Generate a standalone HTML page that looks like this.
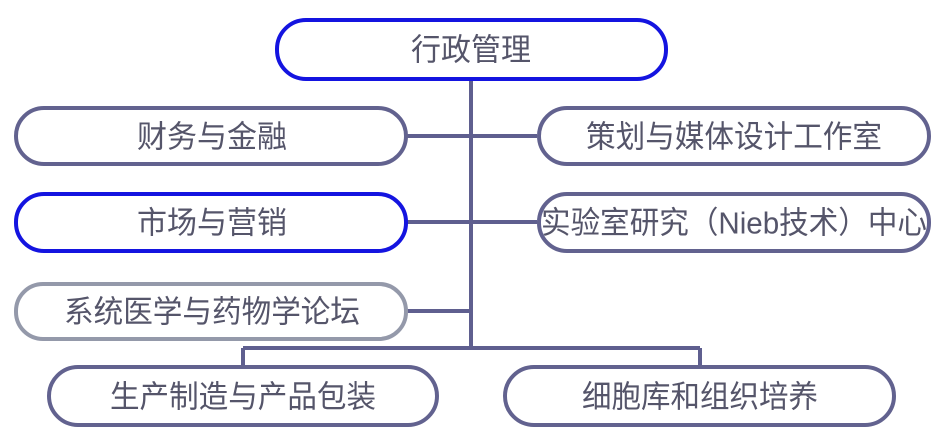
<!DOCTYPE html>
<html><head><meta charset="utf-8"><style>
html,body{margin:0;padding:0;background:#fff;}
text{font-family:"Liberation Sans","Noto Sans CJK SC","WenQuanYi Zen Hei",sans-serif;font-size:31px;fill:#55556a;text-anchor:middle;dominant-baseline:central;}
</style></head><body>
<svg width="947" height="428" xmlns="http://www.w3.org/2000/svg">
<g stroke="#5f5f8f" stroke-width="4" fill="none">
<line x1="471" y1="80" x2="471" y2="348"/>
<line x1="407" y1="136" x2="537" y2="136"/>
<line x1="407" y1="222" x2="537" y2="222"/>
<line x1="407" y1="311" x2="471" y2="311"/>
<line x1="243" y1="348" x2="700" y2="348"/>
<line x1="243" y1="348" x2="243" y2="365"/>
<line x1="700" y1="348" x2="700" y2="365"/>
</g>
<g fill="#fff" stroke-width="4">
<rect x="277" y="20" width="389" height="59" rx="29" stroke="#1414e0"/>
<rect x="16" y="108" width="390" height="56" rx="28" stroke="#62628f"/>
<rect x="16" y="194" width="390" height="57" rx="28" stroke="#1414e0"/>
<rect x="16" y="284" width="390" height="55" rx="27" stroke="#9499aa"/>
<rect x="539" y="108" width="390" height="56" rx="28" stroke="#62628f"/>
<rect x="539" y="194" width="390" height="57" rx="28" stroke="#62628f"/>
<rect x="49" y="367" width="388" height="58" rx="29" stroke="#62628f"/>
<rect x="505" y="367" width="389" height="58" rx="29" stroke="#62628f"/>
</g>
<text x="471" y="50" textLength="120" lengthAdjust="spacingAndGlyphs">行政管理</text>
<text x="212" y="137" textLength="150" lengthAdjust="spacingAndGlyphs">财务与金融</text>
<text x="212" y="223" textLength="150" lengthAdjust="spacingAndGlyphs">市场与营销</text>
<text x="212" y="312" textLength="296" lengthAdjust="spacingAndGlyphs">系统医学与药物学论坛</text>
<text x="734" y="137" textLength="296" lengthAdjust="spacingAndGlyphs">策划与媒体设计工作室</text>
<text x="734" y="223" textLength="386" lengthAdjust="spacingAndGlyphs">实验室研究（Nieb技术）中心</text>
<text x="243" y="397" textLength="266" lengthAdjust="spacingAndGlyphs">生产制造与产品包装</text>
<text x="700" y="397" textLength="236" lengthAdjust="spacingAndGlyphs">细胞库和组织培养</text>
</svg>
</body></html>
